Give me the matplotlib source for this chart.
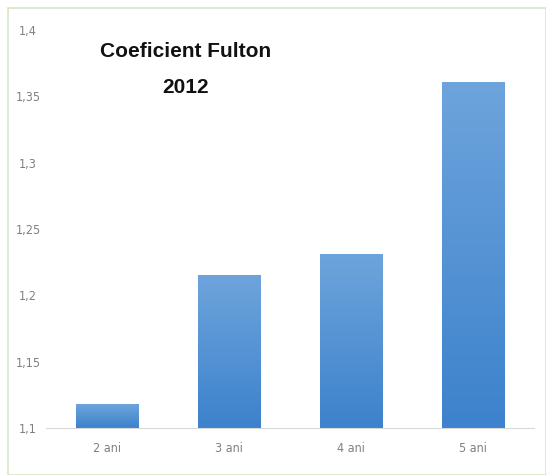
import numpy as np
import matplotlib
matplotlib.use('Agg')
import matplotlib.pyplot as plt
from matplotlib.patches import Rectangle
from matplotlib.colors import LinearSegmentedColormap

categories = ["2 ani", "3 ani", "4 ani", "5 ani"]
values = [1.118, 1.215, 1.231, 1.361]
yticks = [1.1, 1.15, 1.2, 1.25, 1.3, 1.35, 1.4]
ytick_labels = ["1,1", "1,15", "1,2", "1,25", "1,3", "1,35", "1,4"]

fig = plt.figure(figsize=(5.46, 4.75), dpi=100)
ax = fig.add_axes([46 / 546, 1 - 428 / 475, 488 / 546, 398 / 475])

x = np.arange(len(categories))
bars = ax.bar(x, values, width=0.51, bottom=0, color='none', zorder=2)

# vertical gradient fill for each bar
cmap = LinearSegmentedColormap.from_list('bar', ['#3c82cc', '#6ea4dc'])
grad = np.linspace(0, 1, 256).reshape(-1, 1)
for b in bars:
    x0, w, h = b.get_x(), b.get_width(), b.get_height()
    im = ax.imshow(grad, cmap=cmap, origin='lower', aspect='auto',
                   extent=[x0, x0 + w, 1.1, h], zorder=2)
    im.set_clip_path(b)

ax.set_xlim(-0.5, len(categories) - 0.5)
ax.set_ylim(1.1, 1.4)
ax.set_yticks(yticks)
ax.set_yticklabels(ytick_labels, fontsize=9, color='#808080',
                   fontstretch='condensed', ha='center')
ax.set_xticks(x)
ax.set_xticklabels(categories, fontsize=9, color='#808080',
                   fontstretch='condensed')
ax.tick_params(axis='y', length=0, pad=13)
ax.tick_params(axis='x', length=0, pad=10)

for s in ['top', 'right', 'left']:
    ax.spines[s].set_visible(False)
ax.spines['bottom'].set_color('#d9d9d9')

title_kw = dict(transform=ax.transAxes, ha='center', va='center',
                fontsize=15, fontweight='bold', family='Liberation Sans',
                color='#111111')
ax.text(0.285, 0.945, "Coeficient Fulton", **title_kw)
ax.text(0.285, 0.855, "2012", **title_kw)

# outer chart border
fig.patches.append(Rectangle((8 / 546, 0.0), 1 - 8 / 546, 1 - 8 / 475,
                             transform=fig.transFigure, fill=False,
                             edgecolor='#d6e6c4', linewidth=1.2))

fig.savefig('out.png', dpi=100)
